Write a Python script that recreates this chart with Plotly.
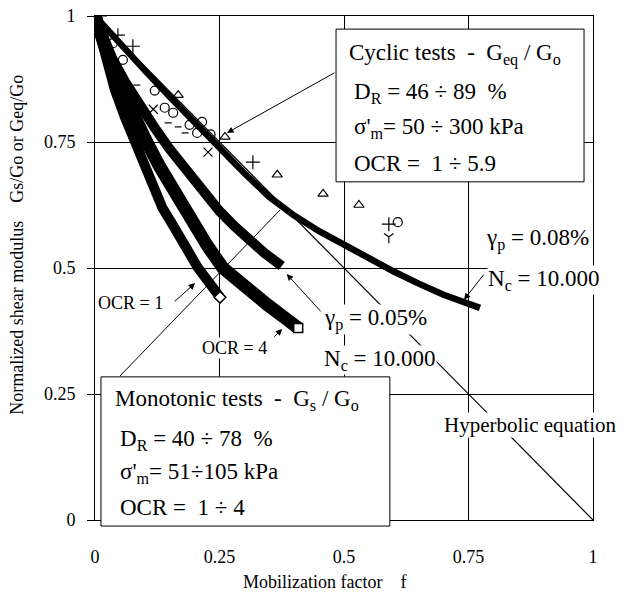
import plotly.graph_objects as go

# ---------------- data ----------------
# Hyperbolic equation (straight line G/Go = 1 - f)
hyp_f = [0.0, 1.0]
hyp_y = [1.0, 0.0]

# Cyclic tests, gamma_p = 0.08 %, Nc = 10.000
c08_f = [0.0, 0.05, 0.10, 0.15, 0.20, 0.25, 0.30, 0.35, 0.40, 0.45, 0.50, 0.55, 0.60, 0.65, 0.70, 0.773]
c08_y = [1.0, 0.945, 0.892, 0.840, 0.788, 0.738, 0.688, 0.641, 0.604, 0.573, 0.546, 0.519, 0.493, 0.469, 0.447, 0.421]

# Cyclic tests, gamma_p = 0.05 %, Nc = 10.000
c05_f = [0.0, 0.015, 0.035, 0.06, 0.09, 0.12, 0.15, 0.18, 0.215, 0.25, 0.28, 0.31, 0.34, 0.375]
c05_y = [1.0, 0.960, 0.915, 0.870, 0.822, 0.778, 0.736, 0.697, 0.655, 0.613, 0.583, 0.555, 0.530, 0.504]

# Monotonic tests OCR = 4
m4_f = [0.0, 0.015, 0.032, 0.054, 0.078, 0.104, 0.13, 0.157, 0.195, 0.225, 0.257, 0.30, 0.345, 0.388, 0.408]
m4_y = [1.0, 0.952, 0.903, 0.853, 0.800, 0.750, 0.701, 0.655, 0.593, 0.545, 0.500, 0.462, 0.428, 0.396, 0.381]

# Monotonic tests OCR = 1
m1_f = [0.0, 0.012, 0.025, 0.040, 0.060, 0.080, 0.098, 0.117, 0.135, 0.154, 0.180, 0.207, 0.230, 0.251]
m1_y = [1.0, 0.950, 0.900, 0.853, 0.799, 0.750, 0.702, 0.655, 0.620, 0.589, 0.543, 0.500, 0.470, 0.442]

# Cyclic test points
circ_f = [0.005, 0.036, 0.056, 0.120, 0.140, 0.157, 0.190, 0.205, 0.215, 0.232, 0.608]
circ_y = [0.995, 0.946, 0.913, 0.852, 0.818, 0.808, 0.784, 0.768, 0.790, 0.765, 0.591]
plus_f = [0.010, 0.046, 0.076, 0.317, 0.590]
plus_y = [1.000, 0.962, 0.940, 0.710, 0.587]
x_f = [0.117, 0.227]
x_y = [0.815, 0.730]
tri_f = [0.167, 0.261, 0.366, 0.458, 0.530]
tri_y = [0.843, 0.760, 0.685, 0.647, 0.625]
yd_f = [0.590]
yd_y = [0.562]
dash_f = [0.064, 0.084, 0.147, 0.167, 0.181]
dash_y = [0.869, 0.863, 0.788, 0.780, 0.768]

tick_vals = [0, 0.25, 0.5, 0.75, 1]
tick_text = ["0", "0.25", "0.5", "0.75", "1"]

FONT = "Liberation Serif"

fig = go.Figure()

fig.add_trace(go.Scatter(x=hyp_f, y=hyp_y, mode="lines",
                         line=dict(color="black", width=1.2), hoverinfo="skip"))
fig.add_trace(go.Scatter(x=m1_f, y=m1_y, mode="lines",
                         line=dict(color="black", width=10), hoverinfo="skip"))
fig.add_trace(go.Scatter(x=m4_f, y=m4_y, mode="lines",
                         line=dict(color="black", width=13), hoverinfo="skip"))
fig.add_trace(go.Scatter(x=c05_f, y=c05_y, mode="lines",
                         line=dict(color="black", width=10), hoverinfo="skip"))
fig.add_trace(go.Scatter(x=c08_f, y=c08_y, mode="lines",
                         line=dict(color="black", width=6.5), hoverinfo="skip"))
# end markers of monotonic bands
fig.add_trace(go.Scatter(x=m1_f[-1:], y=m1_y[-1:], mode="markers",
                         marker=dict(symbol="diamond", size=9, color="white",
                                     line=dict(color="black", width=1.5)), hoverinfo="skip"))
fig.add_trace(go.Scatter(x=m4_f[-1:], y=m4_y[-1:], mode="markers",
                         marker=dict(symbol="square", size=9, color="white",
                                     line=dict(color="black", width=1.5)), hoverinfo="skip"))
# cyclic points
fig.add_trace(go.Scatter(x=circ_f, y=circ_y, mode="markers",
                         marker=dict(symbol="circle-open", size=9, color="black",
                                     line=dict(width=1.2)), hoverinfo="skip"))
fig.add_trace(go.Scatter(x=plus_f, y=plus_y, mode="markers",
                         marker=dict(symbol="cross-thin-open", size=10, color="black",
                                     line=dict(width=1.2)), hoverinfo="skip"))
fig.add_trace(go.Scatter(x=x_f, y=x_y, mode="markers",
                         marker=dict(symbol="x-thin-open", size=9, color="black",
                                     line=dict(width=1.2)), hoverinfo="skip"))
fig.add_trace(go.Scatter(x=tri_f, y=tri_y, mode="markers",
                         marker=dict(symbol="triangle-up-open", size=9, color="black",
                                     line=dict(width=1.2)), hoverinfo="skip"))
fig.add_trace(go.Scatter(x=yd_f, y=yd_y, mode="markers",
                         marker=dict(symbol="y-down-open", size=8, color="black",
                                     line=dict(width=1.2)), hoverinfo="skip"))
fig.add_trace(go.Scatter(x=dash_f, y=dash_y, mode="markers",
                         marker=dict(symbol="line-ew-open", size=5, color="black",
                                     line=dict(width=1.2)), hoverinfo="skip"))

# ---------------- boxes and lines ----------------
shapes = [
    dict(type="rect", xref="paper", yref="paper", x0=0.484, x1=0.982, y0=0.671, y1=0.974,
         fillcolor="white", line=dict(color="black", width=1), layer="above"),
    dict(type="rect", xref="paper", yref="paper", x0=0.012, x1=0.592, y0=-0.012, y1=0.284,
         fillcolor="white", line=dict(color="black", width=1), layer="above"),
    dict(type="line", xref="x", yref="y", x0=0.0502, y0=0.2857, x1=0.3715, y1=0.6151,
         line=dict(color="black", width=1), layer="above"),
]

ann = []

def txt(x, y, text, size, xanchor="left", bg=None):
    d = dict(x=x, y=y, xref="paper", yref="paper", text=text, showarrow=False,
             xanchor=xanchor, yanchor="middle", font=dict(family=FONT, size=size, color="black"))
    if bg:
        d["bgcolor"] = bg
        d["borderpad"] = 0
    ann.append(d)

BIG = 23
# cyclic box text
txt(0.506, 0.923, "Cyclic tests\u00a0 -\u00a0 G<sub>eq</sub> / G<sub>o</sub>", BIG)
txt(0.516, 0.847, "D<sub>R</sub> = 46 ÷ 89\u00a0 %", BIG)
txt(0.516, 0.778, "σ'<sub>m</sub>= 50 ÷ 300 kPa", BIG)
txt(0.516, 0.708, "OCR =\u00a0 1 ÷ 5.9", BIG)
# monotonic box text
txt(0.036, 0.238, "Monotonic tests\u00a0 -\u00a0 G<sub>s</sub> / G<sub>o</sub>", BIG)
txt(0.046, 0.159, "D<sub>R</sub> = 40 ÷ 78\u00a0 %", BIG)
txt(0.046, 0.093, "σ'<sub>m</sub>= 51÷105 kPa", BIG)
txt(0.046, 0.024, "OCR =\u00a0 1 ÷ 4", BIG)
# curve labels
txt(0.783, 0.556, "γ<sub>p</sub> = 0.08%", BIG, bg="white")
txt(0.787, 0.476, "N<sub>c</sub> = 10.000", BIG, bg="white")
txt(0.458, 0.397, "γ<sub>p</sub> = 0.05%", BIG, bg="white")
txt(0.458, 0.317, "N<sub>c</sub> = 10.000", BIG, bg="white")
txt(0.875, 0.188, "Hyperbolic equation", 21, xanchor="center", bg="white")
txt(0.072, 0.431, "OCR = 1", 18, xanchor="center", bg="white")
txt(0.281, 0.341, "OCR = 4", 18, xanchor="center", bg="white")

# axis titles
ann.append(dict(x=0.46, y=-0.123, xref="paper", yref="paper", showarrow=False,
                text="Mobilization factor\u00a0\u00a0\u00a0\u00a0f", xanchor="center", yanchor="middle",
                font=dict(family=FONT, size=18, color="black")))
ann.append(dict(x=-0.157, y=0.546, xref="paper", yref="paper", showarrow=False, textangle=-90,
                text="Normalized shear modulus\u00a0\u00a0\u00a0\u00a0Gs/Go or Geq/Go",
                xanchor="center", yanchor="middle",
                font=dict(family=FONT, size=18, color="black")))

def arrow(hx, hy, tx, ty):
    ann.append(dict(x=hx, y=hy, ax=tx, ay=ty, xref="x", yref="y", axref="x", ayref="y",
                    text="", showarrow=True, arrowhead=2, arrowsize=1.3, arrowwidth=1,
                    arrowcolor="black", standoff=0, startstandoff=0))

arrow(0.265, 0.768, 0.484, 0.889)   # cyclic box
arrow(0.201, 0.470, 0.157, 0.431)   # OCR = 1
arrow(0.376, 0.379, 0.357, 0.361)   # OCR = 4
arrow(0.385, 0.488, 0.456, 0.411)   # gamma 0.05
arrow(0.741, 0.437, 0.783, 0.490)   # gamma 0.08

axis_common = dict(range=[0, 1], tickvals=tick_vals, ticktext=tick_text,
                   showgrid=True, gridcolor="black", gridwidth=1,
                   zeroline=False, showline=True, linecolor="black", linewidth=1, mirror=True,
                   tickfont=dict(family=FONT, size=18, color="black"))

fig.update_layout(
    width=627, height=594,
    margin=dict(l=95, r=34, t=16, b=74, autoexpand=False),
    paper_bgcolor="white", plot_bgcolor="white",
    showlegend=False,
    xaxis=dict(**axis_common, ticks="", ticklabelstandoff=20),
    yaxis=dict(**axis_common, ticks="outside", ticklen=7, tickcolor="black", ticklabelstandoff=8),
    shapes=shapes,
    annotations=ann,
)

fig.write_html("out.html", config={"displayModeBar": False},
               post_script="document.body.style.margin='0';")
